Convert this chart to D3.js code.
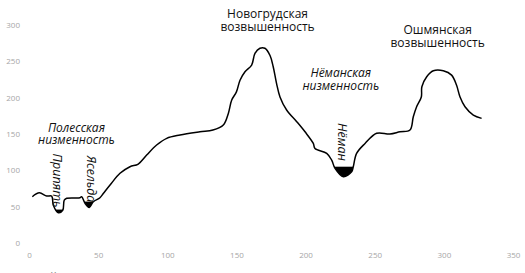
<!DOCTYPE html>
<html><head><meta charset="utf-8">
<script src="https://cdn.jsdelivr.net/npm/d3@7"></script>
<style>
html,body{margin:0;padding:0;background:#fff;}
svg{display:block;}
</style></head>
<body>
<script>
// Profile: distance (km) vs elevation (m)
const distance = [2.4,7.5,12.8,16.4,17.6,21.2,24.4,25.5,27.3,36.9,38.1,40.5,43.6,46.5,51.3,53.7,58.6,65.8,73,79,85.1,92.3,99.6,109.2,123.6,133,140.5,144.1,146.6,150,152.6,156.2,161,163.4,167,170.6,174.3,176.6,179,181.5,186.3,193.6,199.6,205.6,206.8,215.3,218.9,221.3,227.3,233.3,234.5,236.9,243,251.4,261,268.3,275.5,277.9,280.3,283.7,284.1,287.6,292.4,299.6,305.6,309.2,311.7,315.3,321.3,327.3];
const elevation = [63.7,69,64.6,64.6,52,41.7,45,59,61.5,62.3,63.7,54.6,49,56.8,62.3,68,79.8,95.9,105,108.7,121,134.8,144,148.6,153,155.4,162.3,178,196.7,208,224,235.6,244.8,261,268,268,258,242.5,219.7,201,183,167,153,137,130,123.4,114,102.7,91.2,98,105,123.4,137,151,150,153,155.4,173.7,187.5,201,215,228.8,237,237,231,217,201,187.5,176,171.5];

const xTicks = [0,50,100,150,200,250,300,350];
const yTicks = [0,50,100,150,200,250,300];

// Regions (lines of text), anchor distance/elevation
const regionNames = [["Полесская","низменность"],["Новогрудская","возвышенность"],["Нёманская","низменность"],["Ошмянская","возвышенность"]];
const regionX = [34.3, 172.5, 225.5, 295.5];
const regionY = [153, 309, 228, 287];
const regionItalic = [true,false,true,false];

// Rivers
const riverNames = ["Припять","Ясельда","Нёман"];
const riverX = [20.6, 44.8, 226.8];
const riverY = [86, 88, 139];
const riverFrom = [17.5, 40, 220.5];
const riverTo = [24.8, 47.5, 235];
const riverLevel = [46, 57, 105];

const W = 525, H = 273;
const svg = d3.select("body").append("svg").attr("width", W).attr("height", H);
const x = d3.scaleLinear().domain([0,350]).range([29,513]);
const y = d3.scaleLinear().domain([0,300]).range([243,25]);

const pts = distance.map((d,i)=>[d, elevation[i]]);
const font = "'Open Sans', sans-serif";

// axes (labels only)
const xa = svg.append("g").attr("transform", `translate(0,${y(0)})`)
  .call(d3.axisBottom(x).tickValues(xTicks).tickSize(0).tickPadding(9));
const ya = svg.append("g").attr("transform", `translate(${x(0)},0)`)
  .call(d3.axisLeft(y).tickValues(yTicks).tickSize(0).tickPadding(9));
[xa,ya].forEach(a=>{
  a.select(".domain").remove();
  a.selectAll("text").attr("fill","#a6a6a6").style("font-family",font).style("font-size","8px");
});

// water fill: region above the curve, below river level
const defs = svg.append("defs");
defs.append("clipPath").attr("id","above").append("path")
  .attr("d", d3.area().x(d=>x(d[0])).y0(0).y1(d=>y(d[1])).curve(d3.curveCatmullRom)(pts));
const wg = svg.append("g").attr("clip-path","url(#above)");
riverNames.forEach((r,i)=>{
  wg.append("rect")
    .attr("x", x(riverFrom[i])).attr("width", x(riverTo[i])-x(riverFrom[i]))
    .attr("y", y(riverLevel[i])).attr("height", y(0)-y(riverLevel[i]))
    .attr("fill","#000");
});

// profile line
svg.append("path")
  .attr("d", d3.line().x(d=>x(d[0])).y(d=>y(d[1])).curve(d3.curveCatmullRom)(pts))
  .attr("fill","none").attr("stroke","#000").attr("stroke-width",1.5);

// region labels
regionNames.forEach((lines,i)=>{
  const t = svg.append("text")
    .attr("y", y(regionY[i]))
    .attr("text-anchor","middle")
    .style("font-family",font).style("font-size","12px")
    .style("font-style", regionItalic[i]?"italic":"normal")
    .attr("fill","#111");
  lines.forEach((l,j)=>t.append("tspan").attr("x", x(regionX[i])).attr("dy", j==0?0:"1.05em").text(l));
});

// river labels (rotated)
riverNames.forEach((r,i)=>{
  svg.append("text")
    .attr("transform", `translate(${x(riverX[i])},${y(riverY[i])}) rotate(90)`)
    .attr("text-anchor","middle").attr("dy","0.35em")
    .style("font-family",font).style("font-size","12.5px").style("font-style","italic")
    .attr("fill","#111").text(r);
});

// clipped caption at bottom edge
svg.append("text").attr("x",0).attr("y",282)
  .style("font-family",font).style("font-size","13px").attr("fill","#222").text("Сводный");
</script>
</body></html>
